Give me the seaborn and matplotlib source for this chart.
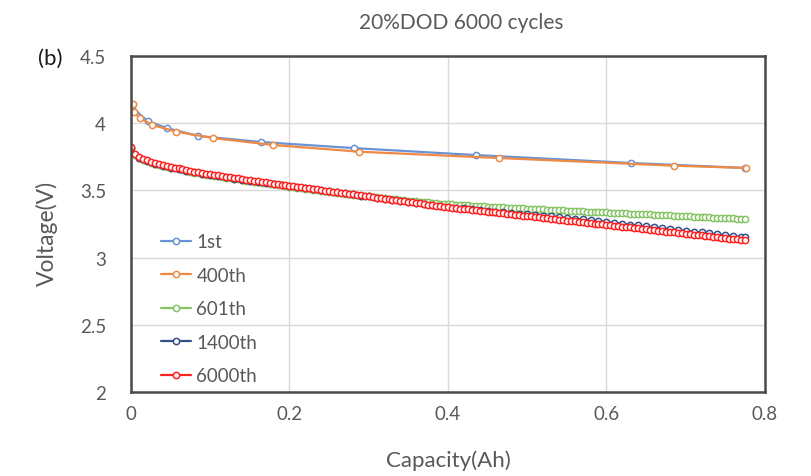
import numpy as np
import pandas as pd
import matplotlib
matplotlib.use("Agg")
import matplotlib.pyplot as plt
import seaborn as sns
from matplotlib.ticker import FuncFormatter

title = "20%DOD 6000 cycles"
x_label = "Capacity(Ah)"
y_label = "Voltage(V)"
panel_tag = "(b)"
x_ticks = [0, 0.2, 0.4, 0.6, 0.8]
y_ticks = [2, 2.5, 3, 3.5, 4, 4.5]

# 1st cycle (sparse markers)
cap_1st = [0.001, 0.021, 0.045, 0.085, 0.164, 0.281, 0.435, 0.631, 0.775]
v_1st = [4.12, 4.016, 3.964, 3.905, 3.86, 3.815, 3.763, 3.704, 3.667]

# 400th cycle (sparse markers)
cap_400 = [0.002, 0.004, 0.011, 0.027, 0.057, 0.103, 0.179, 0.288, 0.464, 0.685, 0.776]
v_400 = [4.143, 4.083, 4.039, 3.987, 3.937, 3.890, 3.838, 3.788, 3.741, 3.684, 3.667]

# dense capacity grid for 601th and 6000th
cap_dense = [
    0.000, 0.005, 0.010, 0.015, 0.020, 0.025, 0.030, 0.035, 0.040, 0.045,
    0.050, 0.055, 0.060, 0.065, 0.070, 0.075, 0.080, 0.085, 0.090, 0.095,
    0.100, 0.105, 0.110, 0.115, 0.120, 0.125, 0.130, 0.135, 0.140, 0.145,
    0.150, 0.155, 0.160, 0.165, 0.170, 0.175, 0.180, 0.185, 0.190, 0.195,
    0.200, 0.205, 0.210, 0.215, 0.220, 0.225, 0.230, 0.235, 0.240, 0.245,
    0.250, 0.255, 0.260, 0.265, 0.270, 0.275, 0.280, 0.285, 0.290, 0.295,
    0.300, 0.305, 0.310, 0.315, 0.320, 0.325, 0.330, 0.335, 0.340, 0.345,
    0.350, 0.355, 0.360, 0.365, 0.370, 0.375, 0.380, 0.385, 0.390, 0.395,
    0.400, 0.405, 0.410, 0.415, 0.420, 0.425, 0.430, 0.435, 0.440, 0.445,
    0.450, 0.455, 0.460, 0.465, 0.470, 0.475, 0.480, 0.485, 0.490, 0.495,
    0.500, 0.505, 0.510, 0.515, 0.520, 0.525, 0.530, 0.535, 0.540, 0.545,
    0.550, 0.555, 0.560, 0.565, 0.570, 0.575, 0.580, 0.585, 0.590, 0.595,
    0.600, 0.605, 0.610, 0.615, 0.620, 0.625, 0.630, 0.635, 0.640, 0.645,
    0.650, 0.655, 0.660, 0.665, 0.670, 0.675, 0.680, 0.685, 0.690, 0.695,
    0.700, 0.705, 0.710, 0.715, 0.720, 0.725, 0.730, 0.735, 0.740, 0.745,
    0.750, 0.755, 0.760, 0.765, 0.770, 0.775,
]

v_601 = [
    3.815, 3.765, 3.743, 3.728, 3.717, 3.707, 3.699, 3.691, 3.683, 3.676,
    3.669, 3.663, 3.657, 3.651, 3.645, 3.639, 3.633, 3.628, 3.623, 3.618,
    3.613, 3.608, 3.604, 3.599, 3.595, 3.590, 3.586, 3.582, 3.577, 3.573,
    3.569, 3.565, 3.561, 3.557, 3.553, 3.549, 3.545, 3.541, 3.537, 3.533,
    3.529, 3.525, 3.521, 3.517, 3.513, 3.509, 3.505, 3.501, 3.497, 3.494,
    3.490, 3.486, 3.483, 3.479, 3.476, 3.472, 3.469, 3.465, 3.462, 3.458,
    3.455, 3.452, 3.448, 3.445, 3.442, 3.439, 3.436, 3.433, 3.430, 3.427,
    3.424, 3.421, 3.418, 3.415, 3.412, 3.410, 3.407, 3.405, 3.402, 3.400,
    3.398, 3.396, 3.394, 3.392, 3.391, 3.389, 3.387, 3.385, 3.383, 3.382,
    3.380, 3.378, 3.377, 3.375, 3.374, 3.372, 3.371, 3.369, 3.368, 3.366,
    3.365, 3.363, 3.362, 3.360, 3.359, 3.357, 3.356, 3.354, 3.353, 3.351,
    3.350, 3.349, 3.347, 3.346, 3.344, 3.343, 3.342, 3.340, 3.339, 3.337,
    3.336, 3.335, 3.333, 3.332, 3.330, 3.329, 3.328, 3.326, 3.325, 3.323,
    3.322, 3.321, 3.319, 3.318, 3.316, 3.315, 3.314, 3.312, 3.311, 3.309,
    3.308, 3.307, 3.305, 3.304, 3.302, 3.301, 3.300, 3.298, 3.297, 3.295,
    3.294, 3.293, 3.291, 3.290, 3.288, 3.287,
]

v_6000 = [
    3.820, 3.772, 3.750, 3.735, 3.724, 3.714, 3.706, 3.698, 3.690, 3.683,
    3.676, 3.670, 3.664, 3.658, 3.652, 3.646, 3.640, 3.635, 3.630, 3.625,
    3.620, 3.615, 3.611, 3.606, 3.602, 3.597, 3.593, 3.589, 3.584, 3.580,
    3.576, 3.572, 3.568, 3.564, 3.560, 3.556, 3.551, 3.547, 3.543, 3.539,
    3.535, 3.531, 3.527, 3.523, 3.519, 3.515, 3.511, 3.507, 3.503, 3.499,
    3.495, 3.491, 3.487, 3.483, 3.479, 3.475, 3.471, 3.467, 3.463, 3.459,
    3.455, 3.451, 3.447, 3.443, 3.439, 3.435, 3.431, 3.427, 3.423, 3.419,
    3.415, 3.411, 3.407, 3.403, 3.399, 3.395, 3.391, 3.387, 3.383, 3.379,
    3.375, 3.372, 3.368, 3.365, 3.362, 3.359, 3.355, 3.352, 3.349, 3.345,
    3.342, 3.339, 3.336, 3.332, 3.329, 3.326, 3.322, 3.319, 3.316, 3.313,
    3.309, 3.306, 3.303, 3.299, 3.296, 3.293, 3.290, 3.286, 3.283, 3.280,
    3.276, 3.273, 3.270, 3.267, 3.263, 3.260, 3.257, 3.253, 3.250, 3.247,
    3.244, 3.240, 3.237, 3.234, 3.230, 3.227, 3.224, 3.221, 3.217, 3.214,
    3.211, 3.207, 3.204, 3.201, 3.198, 3.194, 3.191, 3.188, 3.184, 3.181,
    3.178, 3.175, 3.171, 3.168, 3.165, 3.161, 3.158, 3.155, 3.152, 3.148,
    3.145, 3.142, 3.138, 3.135, 3.132, 3.128,
]

# 1400th cycle
cap_1400 = [
    0.00, 0.01, 0.02, 0.03, 0.04, 0.05, 0.06, 0.07, 0.08, 0.09,
    0.10, 0.11, 0.12, 0.13, 0.14, 0.15, 0.16, 0.17, 0.18, 0.19,
    0.20, 0.21, 0.22, 0.23, 0.24, 0.25, 0.26, 0.27, 0.28, 0.29,
    0.30, 0.31, 0.32, 0.33, 0.34, 0.35, 0.36, 0.37, 0.38, 0.39,
    0.40, 0.41, 0.42, 0.43, 0.44, 0.45, 0.46, 0.47, 0.48, 0.49,
    0.50, 0.51, 0.52, 0.53, 0.54, 0.55, 0.56, 0.57, 0.58, 0.59,
    0.60, 0.61, 0.62, 0.63, 0.64, 0.65, 0.66, 0.67, 0.68, 0.69,
    0.70, 0.71, 0.72, 0.73, 0.74, 0.75, 0.76, 0.77, 0.775,
]
v_1400 = [
    3.815, 3.744, 3.718, 3.700, 3.684, 3.670, 3.658, 3.646, 3.634, 3.624,
    3.614, 3.605, 3.596, 3.587, 3.579, 3.571, 3.563, 3.555, 3.547, 3.539,
    3.531, 3.524, 3.516, 3.508, 3.500, 3.493, 3.485, 3.478, 3.470, 3.462,
    3.455, 3.447, 3.439, 3.431, 3.423, 3.415, 3.407, 3.400, 3.392, 3.385,
    3.378, 3.372, 3.366, 3.360, 3.354, 3.349, 3.343, 3.338, 3.332, 3.327,
    3.322, 3.317, 3.311, 3.306, 3.301, 3.295, 3.290, 3.284, 3.278, 3.272,
    3.266, 3.259, 3.253, 3.246, 3.239, 3.233, 3.226, 3.220, 3.213, 3.206,
    3.200, 3.193, 3.187, 3.180, 3.173, 3.167, 3.160, 3.154, 3.150,
]

series_names = ["1st", "400th", "601th", "1400th", "6000th"]
series_caps = [cap_1st, cap_400, cap_dense, cap_1400, cap_dense]
series_volts = [v_1st, v_400, v_601, v_1400, v_6000]
series_colors = ["#6A93D4", "#EE8A45", "#86C466", "#34508A", "#FF2020"]

sns.set_theme(style="white")
plt.rcParams["font.family"] = ["Lato", "DejaVu Sans"]

fig = plt.figure(figsize=(8.12, 4.77), dpi=100)
ax = fig.add_axes([0.1613, 0.1761, 0.7807, 0.7044])

for name, cx, vy, col in zip(series_names, series_caps, series_volts, series_colors):
    df = pd.DataFrame({"cap": cx, "v": vy})
    sns.lineplot(data=df, x="cap", y="v", ax=ax, color=col, label=name,
                 marker="o", markersize=4.5, markerfacecolor="white",
                 markeredgecolor=col, markeredgewidth=1.1, linewidth=1.6,
                 sort=False, estimator=None)

ax.set_xlim(0, 0.8)
ax.set_ylim(2, 4.5)
ax.set_xticks(x_ticks)
ax.set_yticks(y_ticks)
fmt = FuncFormatter(lambda v, p: "%g" % v)
ax.xaxis.set_major_formatter(fmt)
ax.yaxis.set_major_formatter(fmt)
ax.grid(True, color="#D9D9D9", linewidth=1.0)
ax.set_axisbelow(True)
ax.tick_params(axis="both", length=0, labelsize=13.5, colors="#595959")
ax.tick_params(axis="y", pad=18)
ax.tick_params(axis="x", pad=9)
for s in ax.spines.values():
    s.set_color("#4A4A4A")
    s.set_linewidth(1.8)
    s.set_visible(True)

ax.set_xlabel("")
ax.set_ylabel("")
fig.text(0.552, 0.034, x_label, ha="center", va="center", fontsize=16, color="#595959")
fig.text(0.058, 0.51, y_label, ha="center", va="center", rotation=90, fontsize=16.5, color="#595959")
fig.text(0.568, 0.952, title, ha="center", va="center", fontsize=15, color="#595959")
fig.text(0.062, 0.876, panel_tag, ha="center", va="center", fontsize=16, color="#1a1a1a")

leg = ax.legend(loc="upper left", bbox_to_anchor=(0.035, 0.495), frameon=False,
                fontsize=13.5, handlelength=1.6, handletextpad=0.3,
                labelspacing=0.88, borderaxespad=0)
for t in leg.get_texts():
    t.set_color("#595959")

fig.savefig("out.png", dpi=100)
